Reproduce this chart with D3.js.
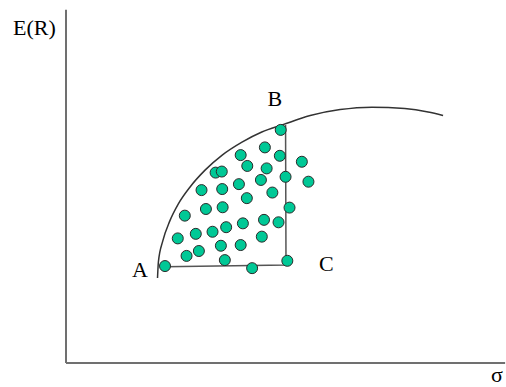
<!DOCTYPE html>
<meta charset="utf-8">
<head>
  <meta charset="UTF-8" />
  <title>Efficient frontier</title>
  <script src="https://d3js.org/d3.v7.min.js"></script>
</head>
<style>
  body { margin: 0; background: #fff; }
  text { font-family: "Liberation Serif", "Times New Roman", serif; font-size: 22px; fill: #000; }
</style>
<div id="my_dataviz"></div>
<script>
  // frontier (sigma, E(R))
  var frontierSigma = [20.8, 21.0, 22.0, 23.6, 25.5, 28.2, 31.6, 35.5, 40.0, 44.5, 49.3, 55.5, 62.3, 69.5, 77.0, 82.3, 85.7]
  var frontierER    = [24.3, 28.9, 34.9, 40.6, 45.4, 50.3, 55.1, 59.4, 63.1, 66.0, 68.1, 70.7, 72.4, 73.1, 72.7, 71.7, 70.7]

  // single portfolios
  var assetSigma = [48.8, 45.2, 39.7, 48.6, 53.6, 41.2, 45.6, 34.0, 35.4, 49.9, 55.1, 44.3, 39.3,
                    35.5, 30.8, 46.9, 41.1, 50.8, 31.8, 35.6, 27.0, 45.0, 48.3, 40.2, 36.4, 33.3,
                    29.5, 25.4, 44.5, 39.7, 35.2, 30.2, 27.4, 36.1, 50.3, 22.5, 42.3]
  var assetER    = [66.6, 61.6, 59.4, 59.2, 57.5, 56.3, 55.6, 54.4, 54.7, 53.2, 51.8, 52.3, 51.1,
                    49.7, 49.4, 48.7, 47.1, 44.4, 44.0, 44.5, 42.1, 40.9, 40.2, 39.9, 38.8, 37.5,
                    36.9, 35.6, 36.1, 33.7, 33.5, 32.0, 30.6, 29.4, 29.2, 27.7, 27.1]

  // corner points A, C, B
  var cornerNames = ["A", "C", "B"]
  var cornerSigma = [22.5, 50.0, 49.9]
  var cornerER    = [27.5, 28.0, 68.0]

  var width = 506, height = 387

  var svg = d3.select("#my_dataviz")
    .append("svg")
      .attr("width", width)
      .attr("height", height)

  var x = d3.scaleLinear().domain([0, 100]).range([66, 506])
  var y = d3.scaleLinear().domain([0, 100]).range([363, 13])

  // axes
  svg.append("line")
    .style("stroke", "#707070")
    .style("stroke-width", 2)
    .attr("x1", x(0)).attr("y1", y(0))
    .attr("x2", x(0)).attr("y2", y(100.9))

  svg.append("line")
    .style("stroke", "#707070")
    .style("stroke-width", 2)
    .attr("x1", x(0)).attr("y1", y(0))
    .attr("x2", x(99.8)).attr("y2", y(0))

  // frontier curve
  var frontier = frontierSigma.map((s, i) => [x(s), y(frontierER[i])])
  svg.append("path")
    .attr("d", d3.line().curve(d3.curveMonotoneX)(frontier))
    .attr("fill", "none")
    .attr("stroke", "#333")
    .attr("stroke-width", 1.5)

  // A-C-B lines
  var corners = cornerSigma.map((s, i) => [x(s), y(cornerER[i])])
  svg.append("path")
    .attr("d", d3.line()(corners))
    .attr("fill", "none")
    .attr("stroke", "#555")
    .attr("stroke-width", 1.5)

  // dots
  var assets = assetSigma.map((s, i) => ({ s: s, r: assetER[i] }))
  svg.selectAll("circle.asset")
    .data(assets)
    .join("circle")
      .attr("class", "asset")
      .attr("cx", d => x(d.s))
      .attr("cy", d => y(d.r))
      .attr("r", 5.5)
      .style("fill", "#00c896")
      .style("stroke", "#2a2a2a")
      .style("stroke-width", 1)

  // corner labels
  var labelOffset = { A: [-33, 10], B: [-18, -19], C: [33, 6] }
  svg.selectAll("text.corner")
    .data(cornerNames)
    .join("text")
      .attr("class", "corner")
      .attr("x", (d, i) => x(cornerSigma[i]) + labelOffset[d][0])
      .attr("y", (d, i) => y(cornerER[i]) + labelOffset[d][1])
      .text(d => d)

  // axis titles
  svg.append("text").attr("x", 13).attr("y", 35).text("E(R)")
  svg.append("text").attr("x", 491).attr("y", 382).text("σ")
</script>
